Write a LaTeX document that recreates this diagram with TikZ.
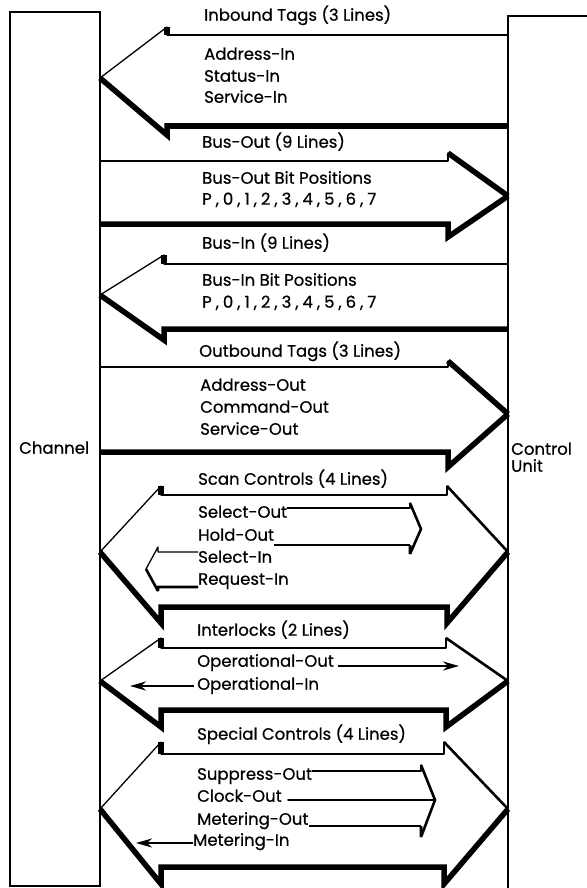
\documentclass[tikz,border=0pt]{standalone}
\usepackage{fontspec}
\setmainfont{Poppins}[FakeBold=0.6]
\usetikzlibrary{arrows.meta}

% Wide bus arrows between the two boxes. Lower and right-facing edges are drawn heavy.
% #1 head back x, #2 head top y, #3 shaft top y, #4 shaft bottom y, #5 head bottom y, #6 tip y
\newcommand{\LeftBus}[6]{%
  \draw[thinln] (chtip |- 0,#6) -- (#1,#2);
  \draw[thickln] (#1,#2) -- (#1,#3);
  \draw[thinln] (#1,#3) -- (cutip |- 0,#3);
  \draw[thickln] (cutip |- 0,#4) -- (#1,#4) -- (#1,#5) -- (chtip |- 0,#6);
}
% #7 style of the upper slanted edge
\newcommand{\RightBus}[7]{%
  \draw[thinln] (chtip |- 0,#3) -- (#1,#3) -- (#1,#2);
  \draw[#7] (#1,#2) -- (cutip |- 0,#6);
  \draw[thickln] (cutip |- 0,#6) -- (#1,#5) -- (#1,#4) -- (chtip |- 0,#4);
}
% #1 left head back x, #2 right head back x, #3 head top y, #4 shaft top y,
% #5 shaft bottom y, #6 head bottom y, #7 tip y
\newcommand{\BothBus}[7]{%
  \draw[thinln] (chtip |- 0,#7) -- (#1,#3);
  \draw[thickln] (#1,#3) -- (#1,#4);
  \draw[thinln] (#1,#4) -- (#2,#4) -- (#2,#3);
  \draw[medln] (#2,#3) -- (cutip |- 0,#7);
  \draw[thickln] (cutip |- 0,#7) -- (#2,#6) -- (#2,#5) -- (#1,#5) -- (#1,#6) -- (chtip |- 0,#7);
}

\begin{document}
\begin{tikzpicture}[x=1pt,y=-1pt,
  thinln/.style={line width=1.3pt, line cap=round, line join=round},
  medln/.style={line width=2.6pt, line join=miter, miter limit=3},
  thickln/.style={line width=5.5pt, line join=miter, miter limit=3},
  boxln/.style={line width=2pt},
  lbl/.style={anchor=mid west, inner sep=0pt, font=\fontsize{16.5}{19}\selectfont},
  bits/.style={lbl, font=\fontsize{16.5}{19}\selectfont\addfontfeatures{LetterSpace=24}},
  sigtip/.style={-{Stealth[length=16pt,width=9pt]}, line width=2.4pt},
]
\useasboundingbox (0,0) rectangle (586,888);

% the two units
\draw[boxln] (10,12) rectangle (100,886);
\draw[boxln] (592,16) -- (508,16) -- (508,892);
\coordinate (chtip) at (100,0);
\coordinate (cutip) at (508,0);
\node[lbl] (channel) at (19,451) {Channel};
\node[lbl] (control) at (511,452) {Control};
\node[lbl] (unit) at (511,469) {Unit};

% Inbound tags
\LeftBus{167}{27}{35}{126}{135}{78}
\node[lbl] (inlbl) at (204,18) {Inbound Tags (3 Lines)};
\node[lbl] (addrin) at (204,57) {Address-In};
\node[lbl] (statin) at (204,79) {Status-In};
\node[lbl] (servin) at (204,100) {Service-In};

% Bus-out
\RightBus{448}{153}{161}{224}{237}{196}{thickln}
\node[lbl] (bolbl) at (202,145) {Bus-Out (9 Lines)};
\node[lbl] (bobits) at (202,181) {Bus-Out Bit Positions};
\node[bits] (bopos) at (202,202) {P,0,1,2,3,4,5,6,7};

% Bus-in
\LeftBus{164}{255}{264}{329}{340}{295}
\node[lbl] (bilbl) at (202,246) {Bus-In (9 Lines)};
\node[lbl] (bibits) at (202,283) {Bus-In Bit Positions};
\node[bits] (bipos) at (202,305) {P,0,1,2,3,4,5,6,7};

% Outbound tags
\RightBus{448}{361}{367}{452}{467}{414}{thickln}
\node[lbl] (outlbl) at (199,354) {Outbound Tags (3 Lines)};
\node[lbl] (addrout) at (200,388) {Address-Out};
\node[lbl] (cmdout) at (200,410) {Command-Out};
\node[lbl] (servout) at (200,432) {Service-Out};

% Scan controls
\BothBus{161}{447}{486}{495}{607}{623}{552}
\node[lbl] (scanlbl) at (198,482) {Scan Controls (4 Lines)};
\node[lbl] (selout) at (198,515) {Select-Out};
\node[lbl] (holdout) at (198,538) {Hold-Out};
\node[lbl] (selin) at (198,560) {Select-In};
\node[lbl] (reqin) at (198,582) {Request-In};
\coordinate (so1) at (410,508);
\coordinate (so2) at (410,503);
\coordinate (sotip) at (421,529);
\coordinate (so3) at (410,554);
\coordinate (so4) at (410,545);
\draw[thinln] (selout.east |- so1) -- (so1) -- (so2);
\draw[medln] (so2) -- (sotip) -- (so3) -- (so4);
\draw[line width=2.4pt] (so4) -- (holdout.east |- so4);
\coordinate (si1) at (158,552);
\coordinate (si2) at (158,547);
\coordinate (sitip) at (146,569);
\coordinate (si3) at (158,591);
\coordinate (si4) at (158,587);
\draw[thinln] (selin.west |- si1) -- (si1) -- (si2) -- (sitip);
\draw[medln] (sitip) -- (si3) -- (si4) -- (reqin.west |- si4);

% Interlocks
\BothBus{161}{446}{638}{648}{710}{727}{681}
\node[lbl] (intlbl) at (197,633) {Interlocks (2 Lines)};
\node[lbl] (opout) at (197,664) {Operational-Out};
\node[lbl] (opin) at (197,687) {Operational-In};
\coordinate (oo) at (459,666);
\coordinate (oi) at (130,686);
\draw[sigtip] (opout.east |- oo) ++(4,0) -- (oo);
\draw[sigtip] (opin.west |- oi) ++(-3,0) -- (oi);

% Special controls
\BothBus{161}{444}{742}{754}{867}{884}{809}
\node[lbl] (speclbl) at (197,737) {Special Controls (4 Lines)};
\node[lbl] (suppout) at (197,777) {Suppress-Out};
\node[lbl] (clockout) at (197,799) {Clock-Out};
\node[lbl] (meterout) at (197,822) {Metering-Out};
\node[lbl] (meterin) at (193,843) {Metering-In};
\coordinate (sp1) at (421,771);
\coordinate (sp2) at (421,765);
\coordinate (sptip) at (435,800);
\coordinate (sp3) at (421,837);
\coordinate (sp4) at (421,826);
\draw[thinln] (suppout.east |- sp1) -- (sp1) -- (sp2);
\draw[medln] (sp2) -- (sptip) -- (sp3) -- (sp4);
\draw[line width=2.2pt] (sp4) -- (meterout.east |- sp4);
\draw[thinln, shorten >=6pt] (sptip) -- (clockout.east |- sptip);
\coordinate (mi) at (136,843);
\draw[sigtip] (meterin.west |- mi) -- (mi);
\end{tikzpicture}
\end{document}
